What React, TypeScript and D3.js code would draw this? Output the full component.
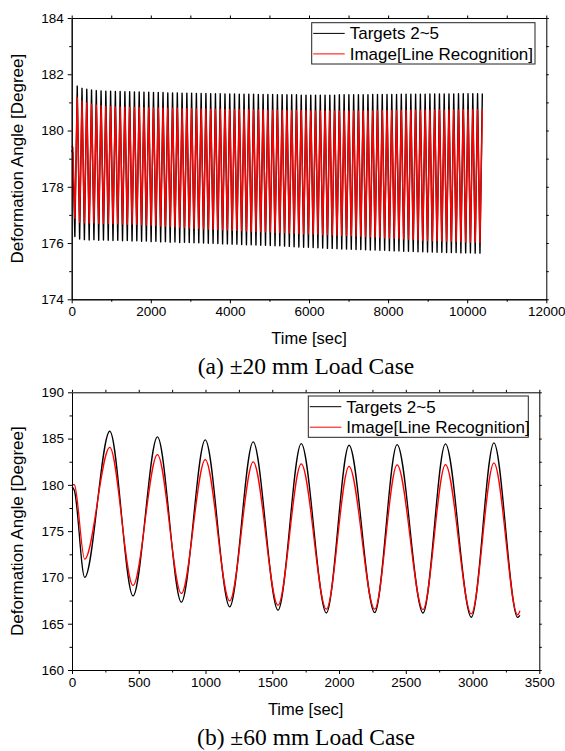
import React, { useEffect, useRef } from "react";
import * as d3 from "d3";

// ---- series labels / colours ----
const seriesNames = ["Targets 2~5", "Image[Line Recognition]"];
const seriesColors = ["#000000", "#ff0000"];

// ---- (a) ±20 mm load case ----
const topTimeTicks = [0, 2000, 4000, 6000, 8000, 10000, 12000];
const topTimeMinor = [1000, 3000, 5000, 7000, 9000, 11000];
const topAngleTicks = [174, 176, 178, 180, 182, 184];
const topAngleMinor = [175, 177, 179, 181, 183];

// start of the record, then one trough + one peak per cycle
const topStartTime = [0, 30];
const topBlackStart = [179.3, 179.2];
const topRedStart = [179.45, 179.4];
const topFirstTrough = 80;
const topFirstPeak = 140;
const topPeriod = 120.5;

const topBlackPeaks = [
  181.58, 181.5, 181.47, 181.44, 181.42, 181.41, 181.4, 181.4, 181.39, 181.39, 181.38, 181.38, 181.37,
  181.37, 181.36, 181.36, 181.35, 181.35, 181.35, 181.34, 181.34, 181.34, 181.33, 181.33, 181.33,
  181.32, 181.32, 181.32, 181.31, 181.31, 181.31, 181.3, 181.3, 181.3, 181.29, 181.29, 181.29, 181.29, 181.28, 181.28, 181.28, 181.28,
  181.27, 181.27, 181.27, 181.27, 181.27, 181.26, 181.26, 181.26, 181.26, 181.26, 181.26, 181.26, 181.26, 181.27, 181.27, 181.27, 181.27,
  181.27, 181.27, 181.27, 181.28, 181.28, 181.28, 181.28, 181.28, 181.28, 181.29, 181.29, 181.29, 181.29, 181.29, 181.29, 181.3,
  181.3, 181.3, 181.3, 181.3, 181.3, 181.31, 181.31, 181.31, 181.31, 181.31, 181.32,
];
const topBlackTroughs = [
  176.23, 176.14,
  176.12, 176.11, 176.12, 176.1, 176.11, 176.1, 176.09, 176.1, 176.08, 176.09, 176.07,
  176.08, 176.06, 176.07, 176.05, 176.06, 176.04, 176.05, 176.03, 176.04, 176.02, 176.03, 176.02,
  176.01, 176.01, 176.0, 175.99, 175.99, 175.98, 175.97, 175.97, 175.96, 175.96, 175.95, 175.94, 175.94, 175.93, 175.92, 175.92, 175.91,
  175.9, 175.9, 175.89, 175.88, 175.87, 175.86, 175.85, 175.85, 175.84, 175.83, 175.82, 175.81, 175.81, 175.8, 175.79, 175.79, 175.78,
  175.77, 175.77, 175.76, 175.75, 175.75, 175.74, 175.74, 175.73, 175.72, 175.72, 175.71, 175.71, 175.7, 175.69, 175.69, 175.68,
  175.68, 175.67, 175.67, 175.66, 175.66, 175.66, 175.65, 175.65, 175.65, 175.64, 175.64,
];
const topRedPeaks = [
  181.17, 181.05, 180.99, 180.94, 180.91, 180.88, 180.86, 180.85, 180.84, 180.84, 180.83, 180.83, 180.82,
  180.82, 180.81, 180.81, 180.8, 180.8, 180.8, 180.79, 180.79, 180.79, 180.78, 180.78, 180.78,
  180.77, 180.77, 180.77, 180.76, 180.76, 180.76, 180.75, 180.75, 180.75, 180.74, 180.74, 180.74, 180.73, 180.73, 180.73, 180.72, 180.72,
  180.72, 180.72, 180.71, 180.71, 180.71, 180.71, 180.71, 180.7, 180.7, 180.7, 180.7, 180.7, 180.7, 180.7, 180.7, 180.7, 180.7,
  180.7, 180.7, 180.7, 180.7, 180.71, 180.71, 180.71, 180.71, 180.71, 180.71, 180.72, 180.72, 180.72, 180.72, 180.72, 180.72,
  180.72, 180.73, 180.73, 180.73, 180.73, 180.73, 180.74, 180.74, 180.74, 180.74, 180.75,
];
const topRedTroughs = [
  176.88, 176.74,
  176.72, 176.71, 176.71, 176.7, 176.7, 176.69, 176.69, 176.68, 176.68, 176.67, 176.67,
  176.66, 176.65, 176.64, 176.63, 176.62, 176.61, 176.6, 176.59, 176.57, 176.56, 176.55, 176.53,
  176.52, 176.52, 176.51, 176.5, 176.49, 176.48, 176.47, 176.46, 176.45, 176.45, 176.44, 176.43, 176.42, 176.41, 176.4, 176.4, 176.39,
  176.38, 176.37, 176.37, 176.36, 176.35, 176.34, 176.33, 176.33, 176.32, 176.31, 176.3, 176.3, 176.29, 176.28, 176.27, 176.27, 176.26,
  176.25, 176.24, 176.23, 176.22, 176.21, 176.2, 176.19, 176.18, 176.17, 176.16, 176.15, 176.14, 176.13, 176.11, 176.1, 176.09,
  176.08, 176.08, 176.07, 176.06, 176.06, 176.05, 176.04, 176.04, 176.03, 176.03, 176.02,
];

// ---- (b) ±60 mm load case ----
const bottomTimeTicks = [0, 500, 1000, 1500, 2000, 2500, 3000, 3500];
const bottomTimeMinor = [250, 750, 1250, 1750, 2250, 2750, 3250];
const bottomAngleTicks = [160, 165, 170, 175, 180, 185, 190];
const bottomAngleMinor = [162.5, 167.5, 172.5, 177.5, 182.5, 187.5];

// turning points of the records
const bottomTimes = [0, 18, 95, 283, 457, 640, 819, 998, 1181, 1357, 1543, 1717, 1905, 2075, 2267, 2435, 2629, 2797, 2991, 3160, 3338, 3355];
const bottomBlack = [179.8, 179.4, 170.0, 185.79, 168.0, 185.18, 167.33, 184.86, 166.82, 184.64, 166.46, 184.46, 166.16, 184.28, 166.2, 184.35, 166.16, 184.43, 165.7, 184.54, 165.68, 165.9];
const bottomRed = [180.05, 180.0, 171.97, 184.06, 169.14, 183.27, 168.27, 182.73, 167.47, 182.48, 167.0, 182.26, 166.57, 182.0, 166.57, 182.16, 166.53, 182.19, 166.07, 182.37, 165.95, 166.4];

const W = 565;
const H = 751;
const sans = "'Liberation Sans', Arial, Helvetica, sans-serif";
const serif = "'Liberation Serif', 'Times New Roman', Times, serif";

function topSeries(start: number[], troughs: number[], peaks: number[]) {
  const pts: [number, number][] = topStartTime.map((t, i) => [t, start[i]]);
  troughs.forEach((v, k) => {
    pts.push([topFirstTrough + k * topPeriod, v]);
    pts.push([topFirstPeak + k * topPeriod, peaks[k]]);
  });
  return pts;
}

export default function App() {
  const svgRef = useRef<SVGSVGElement>(null);

  useEffect(() => {
    const svg = d3.select(svgRef.current);
    svg.selectAll("*").remove();

    const panels = [
      {
        xDomain: [0, 12000],
        xRange: [71.7, 546.3],
        yDomain: [174, 184],
        yRange: [299.3, 18],
        xTicks: topTimeTicks,
        xMinor: topTimeMinor,
        yTicks: topAngleTicks,
        yMinor: topAngleMinor,
        series: [
          topSeries(topBlackStart, topBlackTroughs, topBlackPeaks),
          topSeries(topRedStart, topRedTroughs, topRedPeaks),
        ],
        curve: d3.curveLinear,
        lineWidth: 1.4,
        legend: { x: 311.7, y: 22.7, w: 223.3, h: 41.3 },
        caption: "(a) \u00b120 mm Load Case",
      },
      {
        xDomain: [0, 3500],
        xRange: [72, 539.3],
        yDomain: [160, 190],
        yRange: [670, 392.3],
        xTicks: bottomTimeTicks,
        xMinor: bottomTimeMinor,
        yTicks: bottomAngleTicks,
        yMinor: bottomAngleMinor,
        series: [
          bottomTimes.map((t, i) => [t, bottomBlack[i]] as [number, number]),
          bottomTimes.map((t, i) => [t, bottomRed[i]] as [number, number]),
        ],
        curve: d3.curveMonotoneX,
        lineWidth: 1.3,
        legend: { x: 308.3, y: 396, w: 220, h: 41.3 },
        caption: "(b) \u00b160 mm Load Case",
      },
    ];

    panels.forEach((p) => {
      const x = d3.scaleLinear().domain(p.xDomain).range(p.xRange);
      const y = d3.scaleLinear().domain(p.yDomain).range(p.yRange);
      const [x0, x1] = p.xRange;
      const [y0, y1] = p.yRange;
      const g = svg.append("g");

      // data lines
      const line = d3
        .line<[number, number]>()
        .x((d) => x(d[0]))
        .y((d) => y(d[1]))
        .curve(p.curve);
      p.series.forEach((s, i) => {
        g.append("path")
          .attr("d", line(s))
          .attr("fill", "none")
          .attr("stroke", seriesColors[i])
          .attr("stroke-width", p.lineWidth)
          .attr("stroke-linejoin", "round");
      });

      // axes (four sides, ticks out)
      const styleAxis = (a: any) => {
        a.selectAll("path,line").attr("stroke", "#000").attr("stroke-width", 1);
        a.selectAll("text")
          .attr("font-family", sans)
          .attr("font-size", 13.5)
          .attr("fill", "#000");
      };
      const noLabel = () => "";

      g.append("g")
        .attr("transform", `translate(0,${y0})`)
        .call(d3.axisBottom(x).tickValues(p.xTicks).tickSize(4).tickSizeOuter(0).tickPadding(3).tickFormat((d) => String(d)))
        .call(styleAxis);
      g.append("g")
        .attr("transform", `translate(0,${y0})`)
        .call(d3.axisBottom(x).tickValues(p.xMinor).tickSize(2.5).tickSizeOuter(0).tickFormat(noLabel))
        .call(styleAxis);
      g.append("g")
        .attr("transform", `translate(0,${y1})`)
        .call(d3.axisTop(x).tickValues([...p.xTicks, ...p.xMinor]).tickSize(2.5).tickSizeOuter(0).tickFormat(noLabel))
        .call(styleAxis);

      g.append("g")
        .attr("transform", `translate(${x0},0)`)
        .call(d3.axisLeft(y).tickValues(p.yTicks).tickSize(4).tickSizeOuter(0).tickPadding(4).tickFormat((d) => String(d)))
        .call(styleAxis);
      g.append("g")
        .attr("transform", `translate(${x0},0)`)
        .call(d3.axisLeft(y).tickValues(p.yMinor).tickSize(2.5).tickSizeOuter(0).tickFormat(noLabel))
        .call(styleAxis);
      g.append("g")
        .attr("transform", `translate(${x1},0)`)
        .call(d3.axisRight(y).tickValues([...p.yTicks, ...p.yMinor]).tickSize(2.5).tickSizeOuter(0).tickFormat(noLabel))
        .call(styleAxis);

      // axis titles
      g.append("text")
        .attr("x", (x0 + x1) / 2)
        .attr("y", y0 + 45)
        .attr("text-anchor", "middle")
        .attr("font-family", sans)
        .attr("font-size", 16.5)
        .text("Time [sec]");
      g.append("text")
        .attr("transform", `translate(22.5,${(y0 + y1) / 2}) rotate(-90)`)
        .attr("text-anchor", "middle")
        .attr("font-family", sans)
        .attr("font-size", 17)
        .text("Deformation Angle [Degree]");

      // caption
      g.append("text")
        .attr("x", 306)
        .attr("y", y0 + 74.7)
        .attr("text-anchor", "middle")
        .attr("font-family", serif)
        .attr("font-size", 23.5)
        .text(p.caption);

      // legend
      const lg = g.append("g").attr("transform", `translate(${p.legend.x},${p.legend.y})`);
      lg.append("rect")
        .attr("width", p.legend.w)
        .attr("height", p.legend.h)
        .attr("fill", "#fff")
        .attr("stroke", "#222")
        .attr("stroke-width", 1);
      seriesNames.forEach((name, i) => {
        const ly = 10.7 + i * 20.5;
        lg.append("line")
          .attr("x1", 1.5)
          .attr("x2", 33)
          .attr("y1", ly)
          .attr("y2", ly)
          .attr("stroke", seriesColors[i])
          .attr("stroke-width", 1);
        lg.append("text")
          .attr("x", 38)
          .attr("y", ly + 5.8)
          .attr("font-family", sans)
          .attr("font-size", 17)
          .text(name);
      });
    });
  }, []);

  return (
    <svg
      ref={svgRef}
      width={W}
      height={H}
      style={{ position: "absolute", left: 0, top: 0, background: "#fff" }}
    />
  );
}
